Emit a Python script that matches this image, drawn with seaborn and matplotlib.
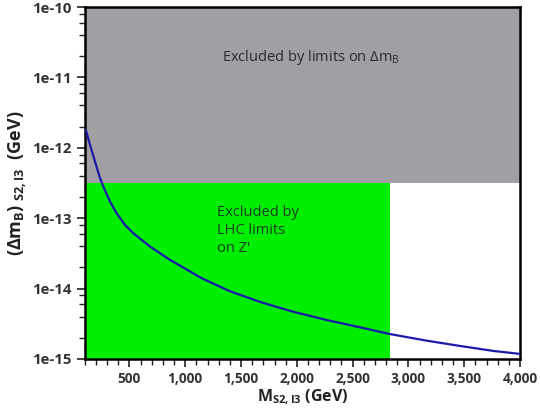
import matplotlib
matplotlib.use("Agg")
import matplotlib.pyplot as plt
import matplotlib.ticker as mticker
import seaborn as sns
import pandas as pd

# ---- data ----
mass = [110, 147, 192, 237, 267, 327, 386, 461, 536, 686, 865, 1149, 1398, 1667, 1817,
        1966, 2266, 2565, 2834, 3164, 3463, 3762, 4000]
delta_mb = [1.79e-12, 1.10e-12, 6.36e-13, 3.69e-13, 2.80e-13, 1.71e-13, 1.17e-13, 8.0e-14,
            6.1e-14, 3.94e-14, 2.55e-14, 1.40e-14, 9.2e-15, 6.5e-15, 5.5e-15, 4.7e-15,
            3.58e-15, 2.82e-15, 2.26e-15, 1.82e-15, 1.53e-15, 1.30e-15, 1.18e-15]

x_range = [100, 4000]
y_range = [1e-15, 1e-10]
dmb_limit = 3.16e-13          # upper bound from Delta m_B
lhc_mass_limit = [100, 2834]  # LHC Z' exclusion in mass
x_ticks = [500, 1000, 1500, 2000, 2500, 3000, 3500, 4000]
x_tick_labels = ["500", "1,000", "1,500", "2,000", "2,500", "3,000", "3,500", "4,000"]
y_ticks = [1e-15, 1e-14, 1e-13, 1e-12, 1e-11, 1e-10]
y_tick_labels = ["1e-15", "1e-14", "1e-13", "1e-12", "1e-11", "1e-10"]

sns.set_theme(style="white")
plt.rcParams["font.family"] = ["Open Sans", "DejaVu Sans"]
plt.rcParams["mathtext.fontset"] = "custom"
plt.rcParams["mathtext.rm"] = "Open Sans:bold"
plt.rcParams["mathtext.it"] = "Open Sans:bold"
plt.rcParams["mathtext.bf"] = "Open Sans:bold"
plt.rcParams["mathtext.default"] = "rm"

fig = plt.figure(figsize=(5.4, 4.15), dpi=100)
ax = fig.add_axes([0.157, 0.135, 0.806, 0.848])

# excluded regions
ax.fill_between(x_range, [dmb_limit, dmb_limit], [y_range[1], y_range[1]],
                color="#a09fa4", linewidth=0, zorder=1)
ax.fill_between(lhc_mass_limit, [y_range[0], y_range[0]], [dmb_limit, dmb_limit],
                color="#00ee00", linewidth=0, zorder=1)

df = pd.DataFrame({"M": mass, "dmB": delta_mb})
sns.lineplot(data=df, x="M", y="dmB", ax=ax, color="#1a1aaa", linewidth=1.6, zorder=3)

ax.set_yscale("log")
ax.set_xlim(*x_range)
ax.set_ylim(*y_range)

ax.set_xticks(x_ticks)
ax.set_xticklabels(x_tick_labels)
ax.xaxis.set_minor_locator(mticker.MultipleLocator(100))
ax.set_yticks(y_ticks)
ax.set_yticklabels(y_tick_labels)
ax.yaxis.set_minor_locator(mticker.LogLocator(base=10, subs=(2, 4, 6, 8)))
ax.yaxis.set_minor_formatter(mticker.NullFormatter())

ax.tick_params(axis="both", which="major", direction="out", length=6, width=1.2,
               color="#222222", labelcolor="#333333", bottom=True, left=True)
ax.tick_params(axis="x", which="major", labelsize=9.8)
ax.tick_params(axis="y", which="major", labelsize=10.8)
ax.tick_params(axis="both", which="minor", direction="out", length=4, width=1.0,
               color="#222222", bottom=True, left=True)
for lab in ax.get_xticklabels() + ax.get_yticklabels():
    lab.set_fontweight("bold")

for s in ax.spines.values():
    s.set_color("black")
    s.set_linewidth(1.8)

ax.set_xlabel(r"$M_{S2,I3}$ (GeV)", fontsize=11.5, fontweight="bold", color="#222222", labelpad=1)
ax.set_ylabel(r"$(\Delta m_{B})_{\ S2,I3}$  (GeV)", fontsize=13, fontweight="bold",
              color="#222222", labelpad=2)

ax.text(2125, 1.95e-11, "Excluded by limits on Δm" + r"$_\mathregular{B}$", ha="center", va="center",
        fontsize=10.5, color="#2a2a30", zorder=4)
ax.text(1281, 6.7e-14, "Excluded by\nLHC limits\non Z'", ha="left", va="center",
        fontsize=10.5, color="#1e3d1e", linespacing=1.25, zorder=4)

fig.savefig("out.png", dpi=100)
